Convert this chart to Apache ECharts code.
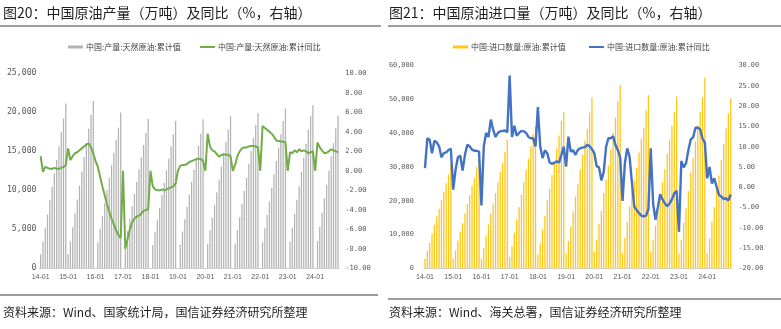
<!DOCTYPE html>
<html>
<head>
<meta charset="utf-8">
<script src="https://cdn.jsdelivr.net/npm/echarts@6/dist/echarts.min.js"></script>
<style>
html,body{margin:0;padding:0;background:#fff;}
#chart{width:781px;height:329px;}
</style>
</head>
<body>
<div id="chart"></div>
<script>
// Monthly categories 2014-01 .. 2024-11
const categories = [];
for (let y = 14; y <= 24; y++) {
  for (let m = 1; m <= 12; m++) {
    if (y === 24 && m > 11) break;
    categories.push(y + '-' + String(m).padStart(2, '0'));
  }
}

// Crude oil output, cumulative (10k tonnes); Jan not reported from 2016
const prodCum = [
  1790, 3390, 5200, 6900, 8710, 10470, 12130, 13900, 15620, 17470, 19200, 21140,
  1810, 3460, 5250, 7010, 8810, 10600, 12420, 14270, 16080, 17900, 19690, 21460,
  null, 3340, 5060, 6700, 8390, 9990, 11620, 13240, 14830, 16460, 18040, 19970,
  null, 3120, 4760, 6350, 7970, 9540, 11100, 12690, 14230, 15810, 17340, 19150,
  null, 3000, 4640, 6170, 7750, 9390, 10970, 12540, 14030, 15640, 17180, 18910,
  null, 3040, 4720, 6290, 7880, 9460, 11050, 12590, 14120, 15680, 17290, 19100,
  null, 3120, 4870, 6460, 8150, 9730, 11390, 13040, 14620, 16240, 17810, 19490,
  null, 3190, 4920, 6560, 8240, 9910, 11620, 13360, 15030, 16720, 18370, 19900,
  null, 3340, 5140, 6840, 8580, 10290, 12020, 13770, 15450, 17180, 18870, 20470,
  null, 3400, 5240, 6960, 8790, 10510, 12340, 14170, 15960, 17810, 19530, 20890,
  null, 3500, 5340, 7110, 8940, 10710, 12520, 14360, 16060, 17940, 19600
];

// Crude oil output, cumulative YoY (%)
const prodYoY = [
  1.5, -0.1, 0.4, 0.3, 0.2, 0.2, 0.3, 0.2, 0.2, 0.3, 0.4, 0.6,
  2.3, 1.1, 1.5, 1.8, 1.9, 2.1, 2.3, 2.5, 2.7, 2.8, 2.4, 1.8,
  1.0, 0.4, -0.6, -1.6, -2.5, -3.4, -4.2, -4.9, -5.5, -6.1, -6.6, -6.9,
  0, -8.0, -7.0, -6.0, -5.3, -4.9, -4.7, -4.6, -4.4, -4.1, -4.0, -4.0,
  0, -1.6, -1.9, -2.0, -2.0, -1.9, -2.0, -1.9, -1.8, -1.7, -1.6, -1.3,
  0, 0.5, 0.6, 0.6, 0.7, 0.9, 1.0, 1.1, 1.2, 1.25, 1.2, 1.0,
  0, 3.8, 2.5, 2.1, 2.0, 1.7, 1.45, 1.6, 1.7, 1.65, 1.65, 1.5,
  0, 0.6, 1.5, 2.0, 2.3, 2.4, 2.4, 2.5, 2.55, 2.55, 2.5, 2.4,
  0, 4.6, 4.4, 4.2, 4.0, 3.8, 3.5, 3.1, 3.05, 3.0, 3.0, 2.9,
  0, 1.9, 1.8, 2.1, 1.9, 2.2, 2.0, 2.1, 2.0, 1.8, 1.9, 2.0,
  0, 2.9, 2.4, 2.1, 1.8, 1.85, 2.0, 2.2, 2.1, 2.0, 1.9
];

// Crude oil imports, cumulative (10k tonnes)
const importCum = [
  2820, 5100, 7600, 10230, 12860, 15330, 17620, 20330, 22700, 25160, 27780, 30840,
  2800, 5310, 8130, 10830, 13360, 16330, 19060, 21730, 24420, 26730, 29920, 33550,
  2860, 5990, 9710, 12990, 16280, 19210, 22260, 25410, 28530, 31180, 34430, 38100,
  3400, 6640, 10540, 14380, 18140, 21830, 25520, 29180, 32490, 36020, 39790, 41960,
  4060, 7360, 11440, 15480, 20090, 23590, 27610, 31720, 35480, 39290, 43670, 46190,
  4400, 8090, 12390, 16790, 21260, 24970, 29270, 33680, 37690, 41230, 46110, 50570,
  4900, 8530, 13010, 17060, 22330, 26250, 30380, 35010, 40130, 44670, 49580, 54240,
  4400, 8960, 13650, 18260, 23090, 26050, 29800, 34260, 38330, 41430, 46840, 51300,
  4900, 8470, 12630, 16720, 21110, 25530, 29320, 33930, 38160, 42300, 46360, 50830,
  4400, 8410, 13480, 17790, 22950, 28300, 32600, 37520, 42400, 46270, 50660, 56400,
  4400, 8830, 13700, 18130, 23190, 27460, 32120, 36870, 41370, 45840, 50290
];

// Crude oil imports, cumulative YoY (%)
const importYoY = [
  4.7, 12.1, 11.7, 8.4, 11.5, 11.1, 10.1, 7.4, 8.4, 8.6, 9.2, 9.5,
  -0.6, 4.3, 7.4, 7.8, 4.1, 8.0, 10.5, 10.1, 9.3, 9.0, 9.0, 8.8,
  -4.5, 10.1, 13.4, 12.4, 16.7, 14.2, 12.4, 13.4, 13.8, 13.9, 14.0, 13.6,
  27.6, 12.4, 15.2, 12.7, 13.4, 13.9, 13.8, 13.4, 12.4, 12.1, 12.1, 10.1,
  19.8, 10.1, 7.2, 9.1, 8.4, 6.1, 5.8, 6.0, 6.4, 6.1, 8.0, 10.0,
  5.1, 12.5, 8.8, 9.1, 8.0, 9.2, 9.6, 9.8, 9.9, 10.5, 10.1, 9.4,
  8.4, 5.2, 4.9, 1.7, 3.8, 10.0, 12.1, 12.1, 12.6, 10.4, 9.2, 7.3,
  -3.4, 6.0, 9.6, 7.5, 1.0, -4.8, -5.6, -6.4, -7.0, -7.2, -7.0, -5.4,
  9.6, -4.0, -8.0, -5.0, -1.7, -3.0, -4.0, -4.7, -4.0, -3.0, -1.5, -0.9,
  -11.0, 6.5, 4.9, 5.9, 9.2, 11.8, 12.3, 14.7, 14.7, 14.3, 12.0, 11.0,
  2.2, 5.0, 0.9, 2.2, 0.1, -1.9, -2.3, -2.9, -2.7, -3.3, -1.8
];

const names = {
  prodCum: '中国:产量:天然原油:累计值',
  prodYoY: '中国:产量:天然原油:累计同比',
  impCum: '中国:进口数量:原油:累计值',
  impYoY: '中国:进口数量:原油:累计同比'
};

const CJK = '"Noto Sans CJK SC", "Noto Sans", sans-serif';
const MONO = '"DejaVu Sans Mono", monospace';
const LABEL = '#595959';

const isJan = (i) => i % 12 === 0;
const thousands = (v) => v.toLocaleString('en-US');
const fixed2 = (v) => v.toFixed(2);

function xAxisFor(gridIndex) {
  return {
    type: 'category', gridIndex, data: categories,
    axisLine: { lineStyle: { color: '#d0d0d0', width: 1 } },
    axisTick: { interval: isJan, alignWithLabel: true, length: 3, lineStyle: { color: '#a0a0a0' } },
    axisLabel: { interval: isJan, margin: 5, color: LABEL, fontFamily: '"Liberation Sans", sans-serif', fontSize: 7 }
  };
}

function valueAxis(gridIndex, min, max, interval, fmt, size, margin, pos) {
  return {
    type: 'value', gridIndex, min, max, interval, position: pos,
    splitLine: { show: false }, axisLine: { show: false }, axisTick: { show: false },
    axisLabel: { formatter: fmt, color: LABEL, fontFamily: MONO, fontSize: size, margin }
  };
}

function legendItem(name, left, top, h) {
  return {
    data: [name], left, top, icon: 'rect', itemWidth: 15, itemHeight: h, itemGap: 0,
    selectedMode: false,
    textStyle: { fontFamily: CJK, fontSize: 8, color: '#404040', padding: [0, 0, 0, -2] }
  };
}

const chart = echarts.init(document.getElementById('chart'), null, { renderer: 'canvas' });

chart.setOption({
  animation: false,
  backgroundColor: '#ffffff',
  grid: [
    { left: 39.5, top: 73.3, width: 299.7, height: 195 },
    { left: 423.8, top: 65.7, width: 308.1, height: 202.6 }
  ],
  legend: [
    legendItem(names.prodCum, 63, 38, 3),
    legendItem(names.prodYoY, 195, 38, 2),
    legendItem(names.impCum, 448, 38, 3),
    legendItem(names.impYoY, 584, 38, 2)
  ],
  xAxis: [xAxisFor(0), xAxisFor(1)],
  yAxis: [
    valueAxis(0, 0, 25000, 5000, thousands, 8.2, 3, 'left'),
    valueAxis(0, -10, 10, 2, fixed2, 7.1, 6, 'right'),
    valueAxis(1, 0, 60000, 10000, thousands, 6.9, 10, 'left'),
    valueAxis(1, -20, 30, 5, fixed2, 6.9, 6.5, 'right')
  ],
  series: [
    {
      name: names.prodCum, type: 'bar', xAxisIndex: 0, yAxisIndex: 0,
      data: prodCum, barWidth: '55%', itemStyle: { color: '#b3b3b3' }
    },
    {
      name: names.impCum, type: 'bar', xAxisIndex: 1, yAxisIndex: 2,
      data: importCum, barWidth: '55%', itemStyle: { color: '#ffc61a' }
    },
    {
      name: names.prodYoY, type: 'line', xAxisIndex: 0, yAxisIndex: 1,
      data: prodYoY, showSymbol: false, symbol: 'none',
      lineStyle: { color: '#70ad47', width: 2 }, itemStyle: { color: '#70ad47' }
    },
    {
      name: names.impYoY, type: 'line', xAxisIndex: 1, yAxisIndex: 3,
      data: importYoY, showSymbol: false, symbol: 'none',
      lineStyle: { color: '#4472c4', width: 2.4 }, itemStyle: { color: '#4472c4' }
    }
  ],
  graphic: [
    { type: 'text', left: 3, top: 6, style: { text: '图20：中国原油产量（万吨）及同比（%，右轴）', font: '14px ' + CJK, fill: '#1e1e1e' } },
    { type: 'line', shape: { x1: 0, y1: 26, x2: 381, y2: 26 }, style: { stroke: '#3c3c3c', lineWidth: 1.2 } },
    { type: 'text', left: 389, top: 6, style: { text: '图21：中国原油进口量（万吨）及同比（%，右轴）', font: '14px ' + CJK, fill: '#1e1e1e' } },
    { type: 'line', shape: { x1: 388, y1: 26, x2: 781, y2: 26 }, style: { stroke: '#3c3c3c', lineWidth: 1.2 } },
    { type: 'line', shape: { x1: 0, y1: 295, x2: 378, y2: 295 }, style: { stroke: '#3c3c3c', lineWidth: 1.2 } },
    { type: 'text', left: 3, top: 306, style: { text: '资料来源：Wind、国家统计局，国信证券经济研究所整理', font: '12px ' + CJK, fill: '#1e1e1e' } },
    { type: 'line', shape: { x1: 388, y1: 299, x2: 781, y2: 299 }, style: { stroke: '#3c3c3c', lineWidth: 1.2 } },
    { type: 'text', left: 389, top: 306, style: { text: '资料来源：Wind、海关总署，国信证券经济研究所整理', font: '12px ' + CJK, fill: '#1e1e1e' } }
  ]
});
</script>
</body>
</html>
